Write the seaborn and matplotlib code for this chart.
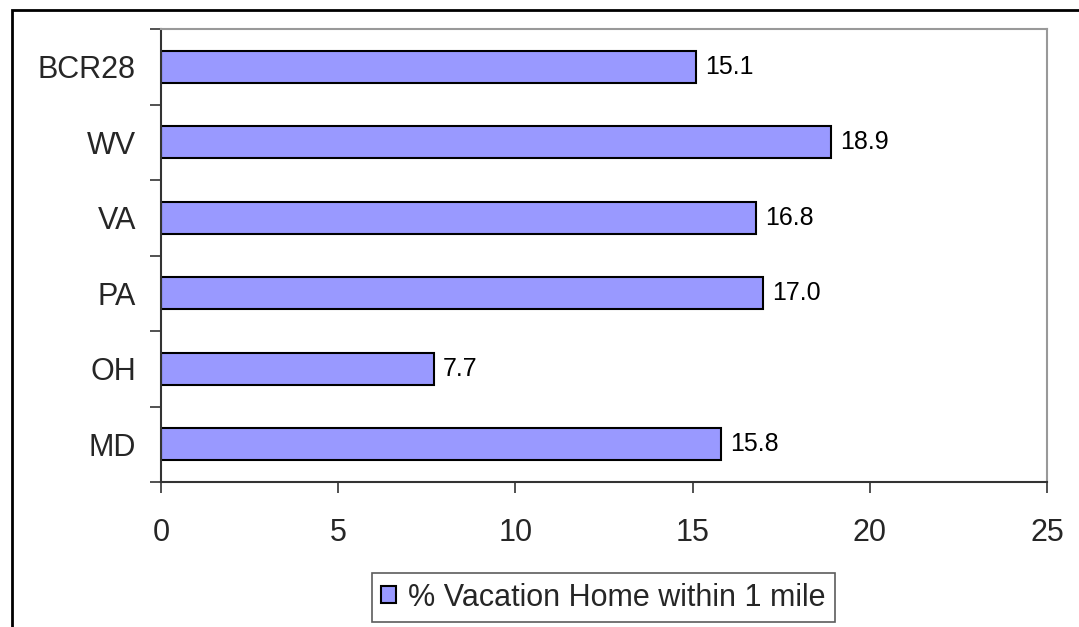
import matplotlib
matplotlib.use("Agg")
import matplotlib.pyplot as plt
import matplotlib.patches as mpatches
import seaborn as sns
import pandas as pd

# Share of respondents with a vacation home within 1 mile, by region
regions = ["BCR28", "WV", "VA", "PA", "OH", "MD"]
pct_vacation_home = [15.1, 18.9, 16.8, 17.0, 7.7, 15.8]
x_ticks = [0, 5, 10, 15, 20, 25]
series_name = "% Vacation Home within 1 mile"

df = pd.DataFrame({"region": regions, "pct": pct_vacation_home})

sns.set_theme(style="white")
plt.rcParams["font.family"] = ["Liberation Sans", "DejaVu Sans"]

W, H = 1079, 627
fig = plt.figure(figsize=(W / 100, H / 100), dpi=100)
ax = fig.add_axes([161 / W, (H - 482) / H, (1047 - 161) / W, (482 - 29) / H])

bar_color = "#9999FF"
sns.barplot(data=df, x="pct", y="region", order=regions, orient="h",
            color=bar_color, width=0.42, edgecolor="black", linewidth=1.5,
            saturation=1, ax=ax)

for patch, v in zip(ax.patches, pct_vacation_home):
    ax.text(v + 0.25, patch.get_y() + patch.get_height() / 2, f"{v:.1f}",
            va="center", ha="left", fontsize=18, color="black")

ax.set_xlim(0, 25)
ax.set_ylim(len(regions) - 0.5, -0.5)
ax.set_xticks(x_ticks)
ax.set_xticklabels([str(t) for t in x_ticks], fontsize=22)
ax.set_xlabel("")
ax.set_ylabel("")

# category labels centred, tick marks on the category boundaries
ax.set_yticks(range(len(regions)))
ax.set_yticklabels(regions, fontsize=22)
ax.set_yticks([i - 0.5 for i in range(len(regions) + 1)], minor=True)
ax.tick_params(axis="y", which="major", length=0, pad=18)
ax.tick_params(axis="y", which="minor", length=8, width=1.2, color="#333333",
               direction="out", left=True)
ax.tick_params(axis="x", which="major", length=8, width=1.2, color="#333333",
               direction="out", bottom=True, pad=18)

for side in ["left", "bottom"]:
    ax.spines[side].set_color("#333333")
    ax.spines[side].set_linewidth(1.5)
for side in ["top", "right"]:
    ax.spines[side].set_color("#999999")
    ax.spines[side].set_linewidth(1.5)
ax.grid(False)

# legend box below the plot
handle = mpatches.Patch(facecolor=bar_color, edgecolor="black", linewidth=1.5,
                        label=series_name)
leg = fig.legend(handles=[handle], loc="center",
                 bbox_to_anchor=((370 + 837) / 2 / W, 1 - (572 + 623) / 2 / H),
                 fontsize=22, frameon=True, fancybox=False, handlelength=0.5,
                 handleheight=0.5, handletextpad=0.4, borderpad=0.3,
                 borderaxespad=0)
leg.get_frame().set_edgecolor("#333333")
leg.get_frame().set_linewidth(1.2)

# outer chart frame (extends beyond the bottom and right edges)
frame = mpatches.Rectangle((12 / W, -0.2), 1.2, 1 - 10 / H + 0.2,
                           transform=fig.transFigure, fill=False,
                           edgecolor="black", linewidth=2, clip_on=False)
fig.patches.append(frame)

fig.savefig("out.png", dpi=100)
